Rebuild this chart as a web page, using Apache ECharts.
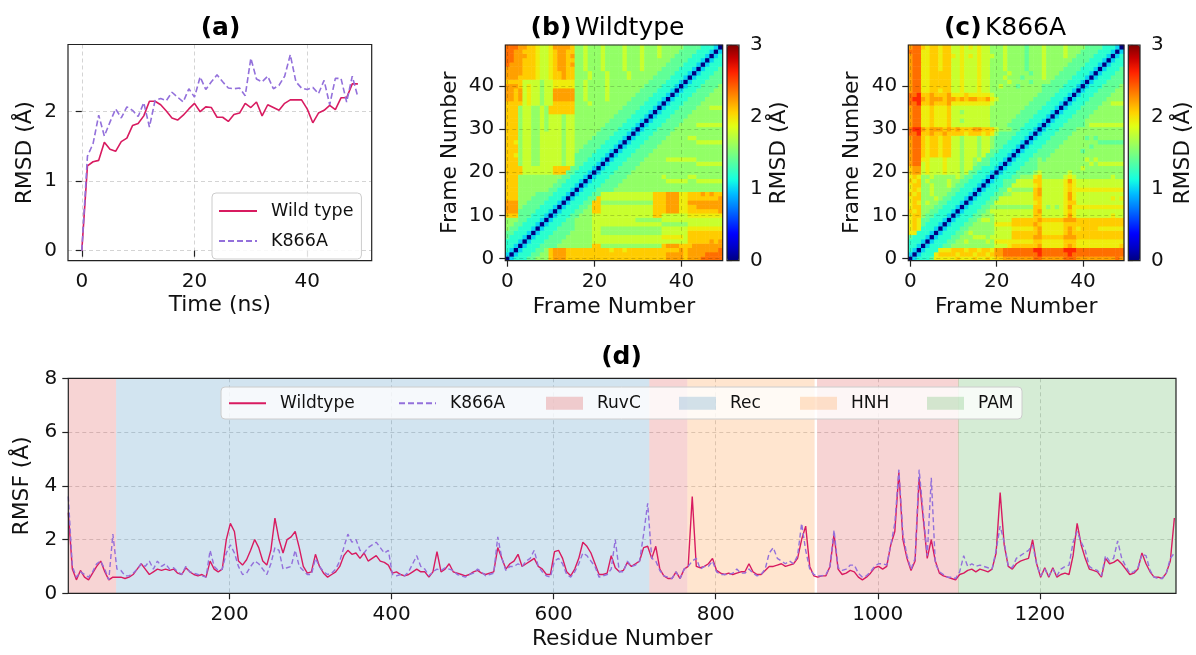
<!DOCTYPE html>
<html>
<head>
<meta charset="utf-8">
<script src="https://cdn.jsdelivr.net/npm/echarts@6.0.0/dist/echarts.min.js"></script>
<style>
  html, body { margin: 0; padding: 0; background: #fff; }
  #chart { width: 1196px; height: 655px; }
</style>
</head>
<body>
<div id="chart"></div>
<script>
// ---- (a) RMSD vs time ----
const timeNs = [];
for (let t = 0; t < 50; t++) timeNs.push(t);
const rmsdWild = [0, 1.22, 1.28, 1.30, 1.56, 1.46, 1.43, 1.57, 1.62, 1.80,
  1.83, 1.94, 2.15, 2.15, 2.10, 2.01, 1.91, 1.88, 1.95, 2.04,
  2.12, 2.00, 2.07, 2.06, 1.92, 1.92, 1.86, 1.96, 1.98, 2.12,
  2.06, 2.14, 1.94, 2.10, 2.06, 2.02, 2.12, 2.17, 2.17, 2.17,
  2.04, 1.84, 1.98, 2.02, 2.09, 2.03, 2.20, 2.20, 2.40, 2.40];
const rmsdK866A = [0, 1.36, 1.54, 1.95, 1.65, 1.85, 2.04, 1.91, 2.07, 2.02,
  1.93, 2.13, 1.78, 2.16, 2.19, 2.16, 2.28, 2.21, 2.14, 2.33,
  2.21, 2.50, 2.32, 2.43, 2.53, 2.43, 2.34, 2.33, 2.34, 2.23,
  2.77, 2.47, 2.43, 2.51, 2.33, 2.38, 2.51, 2.82, 2.43, 2.34,
  2.32, 2.35, 2.26, 2.45, 2.10, 2.48, 2.48, 2.14, 2.51, 2.21];

// ---- (b), (c) pairwise RMSD matrices, lower triangle incl. diagonal ----
// one char per cell, looked up in rmsdLevels (Å)
const rmsdLevels = { '.': 0, '0': 1.0, '1': 1.2, '2': 1.4, '3': 1.58, '4': 1.78,
  '5': 1.95, '6': 2.08, '7': 2.22, '8': 2.38, '9': 2.6 };
const N6 = '221110.';
const wildRows = [
  '.', '0.', '10.', '110.', '1110.', '21110.', '221110.', '3221110.', '33221110.', '333221110.',
  '666' + '2' + N6, '777' + '22' + N6, '777' + '322' + N6, '777' + '3322' + N6, '666' + '33322' + N6,
  '666' + '333322' + N6, '666' + '3333333' + N6, '666' + '33333333' + N6, '666' + '333333333' + N6,
  '666' + '3333333333' + N6,
  '66664444444666' + N6, '666644444446666' + N6,
  '6663443344444344' + N6, '6663443344444344' + '2' + N6, '6653443344444344' + '22' + N6,
  '6663443344444344' + '322' + N6, '6663443344444344' + '3322' + N6, '6653443344444344' + '33322' + N6,
  '6663443344444344' + '333322' + N6, '6663443344444344' + '3333322' + N6,
  '6663443343444344' + '33333322' + N6, '6663443343444344' + '333333322' + N6,
  '6663443343444344' + '3333333322' + N6, '6663443343444344' + '33333333322' + N6,
  '6663443343666666' + '333333333322' + N6, '6663443343666666' + '3333333333322' + N6,
  '6666454434466666' + '33343333333322' + N6, '7767454434477777' + '334333343333322' + N6,
  '7767454434477777' + '3343333433333322' + N6, '7767454434477777' + '33433334333333322' + N6,
  '7776454434455555' + '334333343333333322' + N6, '6666444434455555' + '3343333433333333322' + N6,
  '7776666544566766' + '33343334333343333322' + N6, '7777666544566766' + '333433343333433333322' + N6,
  '7777666544567766' + '3343334333343334333322' + N6, '8777666544567767' + '33433343333433343333322' + N6,
  '8877666544567766' + '334333433334333433333322' + N6, '8877766544567767' + '3343334333343334333433322' + N6,
  '8877666544567766' + '33433343333433343334333322' + N6, '8887766544577776' + '334333433334333433343333322' + N6
];
const mutRows = [
  '.', '0.', '10.', '110.', '1110.', '21110.', '551110.', '5651110.', '56521110.', '565221110.',
  '566' + '3' + N6, '656' + '33' + N6, '566' + '333' + N6, '565' + '3433' + N6, '566' + '33343' + N6,
  '656' + '334333' + N6, '565' + '3343333' + N6, '566' + '33433343' + N6, '656' + '343333433' + N6,
  '565' + '3343333343' + N6,
  '677' + '4544454' + '4434' + '22111' + '0.',
  '677' + '4544454' + '44344' + '2211' + '10.',
  '788' + '4544454' + '443443' + '222' + '110.',
  '788' + '5544454' + '4434434' + '22' + '1110.',
  '788' + '6566566' + '44344434' + '2' + '21110.',
  '788' + '6566566' + '443444344' + N6,
  '788' + '6566566' + '443444344' + '3' + N6,
  '788' + '6566566' + '443444344' + '3' + '2' + N6,
  '788' + '6566566' + '443444344' + '3' + '22' + N6,
  '889' + '6676676' + '666566656' + '5' + '322' + N6,
  '899' + '7677767' + '676667766' + '6' + '4333' + N6,
  '788' + '5565556' + '444444444' + '3' + '33322' + N6,
  '788' + '5565556' + '443444444' + '3' + '333322' + N6,
  '788' + '5565556' + '444444444' + '3' + '3333322' + N6,
  '788' + '5565556' + '443444444' + '3' + '33333322' + N6,
  '788' + '5565556' + '444444444' + '3' + '333333322' + N6,
  '889' + '6676667' + '555555555' + '4' + '3333333322' + N6,
  '899' + '7677767' + '767677667' + '5' + '43333333322' + N6,
  '889' + '6676667' + '555655555' + '4' + '333333333322' + N6,
  '788' + '5566566' + '445444544' + '3' + '3333333333322' + N6,
  '788' + '5566666' + '445444544' + '3' + '34333233333222' + N6,
  '788' + '5566666' + '445444544' + '3' + '333433332333322' + N6,
  '788' + '5566666' + '445444544' + '3' + '3343332333343322' + N6,
  '788' + '5566666' + '445444544' + '3' + '33343333233433322' + N6,
  '788' + '5566566' + '445444544' + '3' + '334333323334333322' + N6,
  '788' + '5566566' + '445444544' + '3' + '3343333233343333322' + N6,
  '788' + '5566566' + '445444544' + '3' + '33433332333433333322' + N6,
  '788' + '5566566' + '545454544' + '4' + '334333323334333343322' + N6,
  '888' + '5566566' + '445444544' + '3' + '3343333233343333433322' + N6,
  '788' + '6566566' + '445454544' + '3' + '33433332333433334333322' + N6
];
const frameIdx = [];
for (let f = 0; f < 50; f++) frameIdx.push(f);

// ---- (d) RMSF per residue (sampled every 5 residues) ----
const RES_FIRST = 1, RES_STEP = 5;
const rmsfWild = [
  3.0, 0.9, 0.5, 0.85, 0.6, 0.5, 0.75, 1.0, 1.2, 0.8,
  0.5, 0.6, 0.6, 0.6, 0.55, 0.6, 0.7, 0.9, 1.1, 0.9,
  0.7, 0.8, 0.9, 0.85, 0.9, 0.85, 0.9, 0.75, 0.7, 0.95,
  0.8, 0.7, 0.65, 0.7, 0.6, 1.2, 0.9, 0.8, 0.9, 2.0,
  2.6, 2.3, 1.2, 1.05, 1.25, 1.6, 2.0, 1.7, 1.2, 1.05,
  1.6, 2.8, 2.0, 1.5, 2.0, 2.1, 2.3, 1.7, 1.0, 0.75,
  0.8, 1.45, 1.0, 0.75, 0.6, 0.7, 0.8, 1.0, 1.4, 1.6,
  1.45, 1.5, 1.3, 1.5, 1.2, 1.3, 1.4, 1.2, 1.15, 1.05,
  0.75, 0.8, 0.7, 0.65, 0.7, 0.8, 0.9, 0.8, 0.8, 0.6,
  0.8, 1.55, 0.8, 0.9, 1.1, 0.8, 0.75, 0.7, 0.65, 0.7,
  0.8, 0.85, 0.75, 0.7, 0.75, 0.8, 1.7, 1.3, 0.9, 1.1,
  1.2, 1.45, 1.0, 1.1, 1.2, 1.3, 1.0, 0.9, 0.7, 0.7,
  1.55, 1.6, 1.3, 0.8, 0.65, 0.9, 1.3, 1.9, 1.75, 1.5,
  1.1, 0.7, 0.7, 0.75, 1.4, 0.95, 0.8, 0.85, 1.15, 1.0,
  1.1, 1.2, 1.7, 1.75, 1.3, 1.75, 0.9, 0.65, 0.55, 0.55,
  0.8, 0.55, 0.9, 1.0, 3.6, 1.0, 0.95, 1.0, 1.1, 1.3,
  0.85, 0.75, 0.7, 0.75, 0.7, 0.75, 0.8, 0.8, 1.1, 0.8,
  0.7, 0.7, 0.85, 1.0, 1.0, 1.05, 1.1, 1.0, 1.05, 1.1,
  1.3, 2.0, 2.5, 1.0, 0.65, 0.6, 0.65, 0.65, 1.0, 2.2,
  0.9, 0.7, 0.75, 0.85, 0.8, 0.6, 0.5, 0.6, 0.75, 0.95,
  1.0, 0.9, 1.0, 1.8, 2.3, 4.5, 2.0, 1.3, 0.85, 1.2,
  4.3, 2.8, 1.3, 2.0, 1.2, 0.75, 0.65, 0.6, 0.55, 0.5,
  0.7, 0.75, 0.85, 0.9, 0.8, 0.9, 0.85, 0.8, 0.9, 1.5,
  3.75, 1.8, 1.0, 0.9, 1.1, 1.2, 1.25, 1.3, 2.0, 1.1,
  0.6, 0.95, 0.6, 0.95, 0.6, 0.7, 0.75, 0.7, 1.4, 2.6,
  1.8, 1.3, 0.9, 0.85, 0.8, 0.6, 1.3, 1.1, 1.15, 1.25,
  1.1, 0.9, 0.7, 0.75, 0.9, 1.5, 1.1, 0.8, 0.6, 0.6,
  0.55, 0.75, 1.2, 2.8
];
const rmsfK866A = [
  3.6, 1.0, 0.6, 0.8, 0.7, 0.6, 0.8, 1.1, 1.2, 0.9,
  0.5, 2.2, 0.9, 0.85, 0.65, 0.65, 0.75, 0.9, 1.1, 1.0,
  1.2, 0.9, 1.2, 1.0, 1.1, 0.9, 0.95, 0.8, 0.7, 1.0,
  0.8, 0.75, 0.7, 0.65, 0.6, 1.6, 1.0, 0.85, 0.9, 1.5,
  1.8, 1.5, 1.0, 0.7, 0.75, 1.0, 1.2, 1.1, 0.9, 0.7,
  1.1, 1.7, 1.6, 0.9, 0.95, 1.0, 1.6, 1.0, 0.85, 0.7,
  0.7, 1.3, 1.0, 0.8, 0.7, 0.75, 0.9, 1.2, 1.7, 2.2,
  1.9, 2.0, 1.6, 1.5, 1.7, 1.8, 1.9, 1.7, 1.5, 1.6,
  0.7, 0.65, 0.7, 0.65, 0.8, 1.1, 1.4, 1.0, 0.9, 0.65,
  0.8, 0.9, 0.85, 0.95, 0.9, 0.85, 0.7, 0.65, 0.6, 0.7,
  0.75, 0.9, 0.8, 0.65, 0.7, 0.75, 2.1, 1.3, 0.85, 1.0,
  1.0, 1.1, 1.0, 1.2, 1.3, 1.6, 1.0, 0.8, 0.65, 0.6,
  1.2, 1.3, 1.1, 0.7, 0.6, 0.8, 1.1, 1.5, 1.4, 1.2,
  1.0, 0.6, 0.65, 0.7, 0.9, 2.0, 0.8, 0.8, 1.2, 1.0,
  1.05, 1.2, 2.2, 3.35, 1.3, 1.2, 0.85, 0.65, 0.6, 0.55,
  0.8, 0.55, 0.9, 1.0, 1.2, 1.3, 0.9, 1.0, 1.0, 1.2,
  0.8, 0.7, 0.7, 0.7, 0.75, 0.9, 0.75, 0.75, 0.9, 0.75,
  0.65, 0.7, 0.9, 1.5, 1.7, 1.3, 1.2, 1.1, 1.2, 1.1,
  1.4, 2.6, 1.6, 0.9, 0.7, 0.65, 0.65, 0.7, 1.0, 2.35,
  0.95, 0.85, 0.9, 1.05, 1.05, 0.75, 0.6, 0.65, 0.8, 1.0,
  1.1, 1.1, 1.05, 1.8, 2.6, 4.6, 2.2, 1.4, 0.9, 1.3,
  4.6, 3.0, 1.4, 4.3, 1.1, 0.8, 0.7, 0.6, 0.6, 0.55,
  0.8, 1.4, 1.0, 1.1, 1.0, 1.05, 1.0, 0.95, 0.9, 1.6,
  2.5, 1.9, 1.0, 0.95, 1.3, 1.4, 1.5, 1.6, 1.8, 1.1,
  0.65, 0.9, 0.65, 0.9, 0.65, 0.9, 1.0, 1.05, 1.9, 2.3,
  1.9, 1.6, 1.0, 0.9, 0.85, 0.65, 1.4, 1.2, 1.3, 1.95,
  1.3, 1.0, 0.75, 0.8, 0.95, 1.45, 1.4, 0.85, 0.6, 0.55,
  0.55, 0.75, 1.3, 1.5
];
const residues = rmsfWild.map((_, i) => RES_FIRST + i * RES_STEP);

// domain spans (residue ranges)
const ruvcSpans = [[1, 60], [718, 765], [925, 1100]];
const recSpans = [[60, 718]];
const hnhSpans = [[765, 922]];
const pamSpans = [[1099, 1368]];

// tick labels
const timeTicks = [0, 20, 40];
const rmsdTicks = [0, 1, 2];
const frameXTicks = [0, 20, 40];
const frameYTicks = [0, 10, 20, 30, 40];
const residueTicks = [200, 400, 600, 800, 1000, 1200];

// ---- styling ----
const FONT = 'DejaVu Sans';
const WT_COLOR = '#d81b60';
const MUT_COLOR = '#9370db';
const JET17 = ['#000080', '#0000c8', '#0000ff', '#0040ff', '#0080ff', '#00bfff', '#14ffe2', '#48ffaf',
  '#7cff7c', '#afff48', '#e2ff14', '#ffd200', '#ff9700', '#ff5c00', '#ff2100', '#c80000', '#800000'];

const G_A = { left: 68, top: 44.5, width: 303.7, height: 216.2 };
const G_B = { left: 505.3, top: 45, width: 217.4, height: 215.7 };
const CB_B = { left: 727, top: 45, width: 12, height: 215.7 };
const G_C = { left: 908.3, top: 45, width: 215.7, height: 215.7 };
const CB_C = { left: 1128.3, top: 45, width: 11.7, height: 215.7 };
const G_D = { left: 68.3, top: 378.3, width: 1107.7, height: 215 };

function decodeMatrix(rows) {
  rows.forEach((r, i) => {
    if (r.length !== i + 1) throw new Error('matrix row ' + i + ' has length ' + r.length);
  });
  const out = [];
  for (let i = 0; i < rows.length; i++) {
    for (let j = 0; j < rows.length; j++) {
      const ch = i >= j ? rows[i][j] : rows[j][i];
      out.push([j, i, rmsdLevels[ch]]);
    }
  }
  return out;
}

const plainNum = v => String(v);
const tick = (vals) => ({ show: true, inside: false, length: 6, lineStyle: { color: '#222', width: 1.2 }, customValues: vals });
const label = (vals) => ({ color: '#111', fontSize: 20, fontFamily: FONT, margin: 11, customValues: vals, formatter: plainNum });
const gridLine = { show: true, lineStyle: { color: 'rgba(0,0,0,0.17)', type: [4, 3], width: 1 } };
const nameStyle = { color: '#111', fontSize: 21.8, fontFamily: FONT };
const TITLE_B = 'bold 25px "DejaVu Sans"';
const TITLE_N = '25px "DejaVu Sans"';

function frameRect(g) {
  return { type: 'rect', z: 100, silent: true,
    shape: { x: g.left, y: g.top, width: g.width, height: g.height },
    style: { fill: 'none', stroke: '#222', lineWidth: 1.2 } };
}
function spanAreas(spans) {
  return spans.map(s => [{ xAxis: s[0] }, { xAxis: s[1] }]);
}
function bandSeries(name, color, spans) {
  return {
    name, type: 'bar', xAxisIndex: 7, yAxisIndex: 7, data: [], itemStyle: { color },
    markArea: { silent: true, itemStyle: { color }, data: spanAreas(spans) }
  };
}
function miniLegend(name, left, color) {
  // line entries: hide the marker so only the (dashed) line remains
  const item = color ? { name, icon: 'rect', itemStyle: { color } } : { name, itemStyle: { opacity: 0 } };
  return {
    data: [item], left, top: 394.8, padding: 0, itemWidth: 37, itemHeight: 13, z: 60,
    selectedMode: false,
    textStyle: { color: '#111', fontSize: 17, fontFamily: FONT, padding: [0, 0, 0, 9] }
  };
}

const chart = echarts.init(document.getElementById('chart'), null, { renderer: 'canvas' });

const option = {
  animation: false,
  textStyle: { fontFamily: FONT },
  grid: [
    Object.assign({}, G_A), Object.assign({}, G_B), Object.assign({}, CB_B),
    Object.assign({}, G_C), Object.assign({}, CB_C), Object.assign({}, G_D)
  ],
  xAxis: [
    { gridIndex: 0, type: 'value', position: 'bottom', min: -2.45, max: 51.45, axisLine: { show: false },
      axisTick: tick(timeTicks), axisLabel: label(timeTicks), splitLine: gridLine,
      name: 'Time (ns)', nameLocation: 'middle', nameGap: 34, nameTextStyle: nameStyle },
    { gridIndex: 1, type: 'category', position: 'bottom', data: frameIdx, show: false },
    { gridIndex: 1, type: 'value', position: 'bottom', min: -0.5, max: 49.5, z: 10, axisLine: { show: false },
      axisTick: tick(frameXTicks), axisLabel: label(frameXTicks), splitLine: gridLine,
      name: 'Frame Number', nameLocation: 'middle', nameGap: 36, nameTextStyle: nameStyle },
    { gridIndex: 2, type: 'value', show: false, min: 0, max: 1 },
    { gridIndex: 3, type: 'category', position: 'bottom', data: frameIdx, show: false },
    { gridIndex: 3, type: 'value', position: 'bottom', min: -0.5, max: 49.5, z: 10, axisLine: { show: false },
      axisTick: tick(frameXTicks), axisLabel: label(frameXTicks), splitLine: gridLine,
      name: 'Frame Number', nameLocation: 'middle', nameGap: 36, nameTextStyle: nameStyle },
    { gridIndex: 4, type: 'value', show: false, min: 0, max: 1 },
    { gridIndex: 5, type: 'value', position: 'bottom', min: 1, max: 1368, axisLine: { show: false },
      axisTick: tick(residueTicks), axisLabel: label(residueTicks), splitLine: gridLine,
      name: 'Residue Number', nameLocation: 'middle', nameGap: 35, nameTextStyle: nameStyle }
  ],
  yAxis: [
    { gridIndex: 0, type: 'value', position: 'left', min: -0.144, max: 2.967, axisLine: { show: false },
      axisTick: tick(rmsdTicks), axisLabel: label(rmsdTicks), splitLine: gridLine,
      name: 'RMSD (Å)', nameLocation: 'middle', nameRotate: 90, nameGap: 32, nameTextStyle: nameStyle },
    { gridIndex: 1, type: 'category', position: 'left', data: frameIdx, show: false },
    { gridIndex: 1, type: 'value', position: 'left', min: -0.5, max: 49.5, z: 10, axisLine: { show: false },
      axisTick: tick(frameYTicks), axisLabel: label(frameYTicks), splitLine: gridLine,
      name: 'Frame Number', nameLocation: 'middle', nameRotate: 90, nameGap: 44, nameTextStyle: nameStyle },
    { gridIndex: 2, type: 'value', position: 'right', min: 0, max: 3, interval: 1, axisLine: { show: false },
      axisTick: { show: true, length: 5, lineStyle: { color: '#222', width: 1.2 } },
      axisLabel: { color: '#111', fontSize: 20, fontFamily: FONT, margin: 11 }, splitLine: { show: false },
      name: 'RMSD (Å)', nameLocation: 'middle', nameRotate: 90, nameGap: 29, nameTextStyle: nameStyle },
    { gridIndex: 3, type: 'category', position: 'left', data: frameIdx, show: false },
    { gridIndex: 3, type: 'value', position: 'left', min: -0.5, max: 49.5, z: 10, axisLine: { show: false },
      axisTick: tick(frameYTicks), axisLabel: label(frameYTicks), splitLine: gridLine,
      name: 'Frame Number', nameLocation: 'middle', nameRotate: 90, nameGap: 45, nameTextStyle: nameStyle },
    { gridIndex: 4, type: 'value', position: 'right', min: 0, max: 3, interval: 1, axisLine: { show: false },
      axisTick: { show: true, length: 5, lineStyle: { color: '#222', width: 1.2 } },
      axisLabel: { color: '#111', fontSize: 20, fontFamily: FONT, margin: 11 }, splitLine: { show: false },
      name: 'RMSD (Å)', nameLocation: 'middle', nameRotate: 90, nameGap: 32, nameTextStyle: nameStyle },
    { gridIndex: 5, type: 'value', position: 'left', min: 0, max: 8, interval: 2, axisLine: { show: false },
      axisTick: { show: true, length: 6, lineStyle: { color: '#222', width: 1.2 } },
      axisLabel: { color: '#111', fontSize: 20, fontFamily: FONT, margin: 11 }, splitLine: gridLine,
      name: 'RMSF (Å)', nameLocation: 'middle', nameRotate: 90, nameGap: 31, nameTextStyle: nameStyle }
  ],
  visualMap: [
    { type: 'continuous', seriesIndex: 0, min: 0, max: 3, inRange: { color: JET17 },
      left: CB_B.left, top: CB_B.top, itemWidth: CB_B.width, itemHeight: CB_B.height,
      calculable: false, hoverLink: false, padding: 0, text: null },
    { type: 'continuous', seriesIndex: 1, min: 0, max: 3, inRange: { color: JET17 },
      left: CB_C.left, top: CB_C.top, itemWidth: CB_C.width, itemHeight: CB_C.height,
      calculable: false, hoverLink: false, padding: 0, text: null }
  ],
  legend: [
    { data: [{ name: 'Wild type', itemStyle: { opacity: 0 } }, { name: 'K866A', itemStyle: { opacity: 0 } }],
      orient: 'vertical', left: 212, top: 193,
      padding: [9, 8, 9, 6], itemWidth: 38, itemHeight: 14, itemGap: 12, selectedMode: false,
      backgroundColor: 'rgba(255,255,255,0.85)', borderColor: '#cccccc', borderWidth: 1, borderRadius: 4,
      textStyle: { color: '#111', fontSize: 17.5, fontFamily: FONT, padding: [0, 0, 0, 9] } },
    miniLegend('Wildtype', 228),
    miniLegend('K866A', 398),
    miniLegend('RuvC', 546, 'rgba(214,39,40,0.22)'),
    miniLegend('Rec', 679, 'rgba(31,119,180,0.2)'),
    miniLegend('HNH', 800, 'rgba(255,127,14,0.2)'),
    miniLegend('PAM', 927, 'rgba(44,160,44,0.2)')
  ],
  series: [
    { type: 'heatmap', xAxisIndex: 1, yAxisIndex: 1, data: decodeMatrix(wildRows), progressive: 0 },
    { type: 'heatmap', xAxisIndex: 4, yAxisIndex: 4, data: decodeMatrix(mutRows), progressive: 0 },
    { name: 'Wild type', type: 'line', xAxisIndex: 0, yAxisIndex: 0, symbol: 'none',
      data: timeNs.map((t, i) => [t, rmsdWild[i]]), lineStyle: { color: WT_COLOR, width: 1.6 },
      itemStyle: { color: WT_COLOR } },
    { name: 'K866A', type: 'line', xAxisIndex: 0, yAxisIndex: 0, symbol: 'none',
      data: timeNs.map((t, i) => [t, rmsdK866A[i]]), lineStyle: { color: MUT_COLOR, width: 1.6, type: [6, 3] },
      itemStyle: { color: MUT_COLOR } },
    bandSeries('RuvC', 'rgba(214,39,40,0.2)', ruvcSpans),
    bandSeries('Rec', 'rgba(31,119,180,0.2)', recSpans),
    bandSeries('HNH', 'rgba(255,127,14,0.2)', hnhSpans),
    bandSeries('PAM', 'rgba(44,160,44,0.2)', pamSpans),
    { name: 'Wildtype', type: 'line', xAxisIndex: 7, yAxisIndex: 7, symbol: 'none', z: 3,
      data: residues.map((r, i) => [r, rmsfWild[i]]), lineStyle: { color: WT_COLOR, width: 1.4 },
      itemStyle: { color: WT_COLOR } },
    { name: 'K866A', type: 'line', xAxisIndex: 7, yAxisIndex: 7, symbol: 'none', z: 4,
      data: residues.map((r, i) => [r, rmsfK866A[i]]), lineStyle: { color: MUT_COLOR, width: 1.4, type: [5, 3] },
      itemStyle: { color: MUT_COLOR } }
  ],
  graphic: [
    frameRect(G_A), frameRect(G_B), frameRect(CB_B), frameRect(G_C), frameRect(CB_C), frameRect(G_D),
    { type: 'rect', z: 50, silent: true, shape: { x: 221, y: 387, width: 801, height: 32, r: 4 },
      style: { fill: 'rgba(255,255,255,0.8)', stroke: '#cccccc', lineWidth: 1 } },
    { type: 'text', z: 100, x: 220.5, y: 28, style: { text: '(a)', align: 'center', verticalAlign: 'middle',
      font: TITLE_B, fill: '#000' } },
    { type: 'text', z: 100, x: 607.5, y: 28, style: { text: '{b|(b)} {n|Wildtype}', align: 'center', verticalAlign: 'middle',
      rich: { b: { font: TITLE_B, fill: '#000' }, n: { font: TITLE_N, fill: '#000' } } } },
    { type: 'text', z: 100, x: 1005, y: 28, style: { text: '{b|(c)} {n|K866A}', align: 'center', verticalAlign: 'middle',
      rich: { b: { font: TITLE_B, fill: '#000' }, n: { font: TITLE_N, fill: '#000' } } } },
    { type: 'text', z: 100, x: 621.5, y: 357, style: { text: '(d)', align: 'center', verticalAlign: 'middle',
      font: TITLE_B, fill: '#000' } }
  ]
};

chart.setOption(option);
</script>
</body>
</html>
